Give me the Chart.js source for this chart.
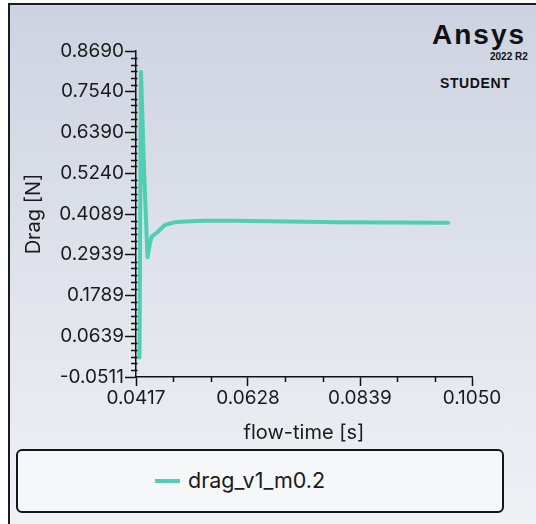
<!DOCTYPE html>
<html>
<head>
<meta charset="utf-8">
<script src="https://cdn.jsdelivr.net/npm/chart.js@4.4.0/dist/chart.umd.min.js"></script>
<style>
  html, body { margin: 0; padding: 0; width: 536px; height: 524px; overflow: hidden; background: #fff; font-family: Inter, "Noto Sans", sans-serif; }
  #frame { position: absolute; left: 8px; top: 3px; width: 600px; height: 600px; border: 2px solid #1c1c1c;
           background: linear-gradient(to bottom, #cdd3e1 0%, #e3e6ed 55%, #f4f5f8 100%); }
  #wrap { position: absolute; left: 0; top: 0; width: 536px; height: 449px; }
  .logo { position: absolute; color: #111; font-family: "Liberation Sans", Arial, sans-serif; font-weight: bold; white-space: nowrap; }
  #legend { position: absolute; left: 16px; top: 449px; width: 484px; height: 60px; border: 2px solid #151515; border-radius: 6px; background: #f6f7f9; }
  #legend .swatch { position: absolute; left: 137px; top: 28px; width: 25px; height: 4px; }
  #legend .text { position: absolute; left: 170px; top: 16px; font-size: 21.5px; color: #1a1a1a; }
</style>
</head>
<body>
<div id="frame"></div>
<div class="logo" style="left:432px; top:19px; font-size:28px; letter-spacing:2px;">Ansys</div>
<div class="logo" style="left:490px; top:51px; font-size:10px;">2022 R2</div>
<div class="logo" style="left:440px; top:75px; font-size:14px; letter-spacing:0.6px;">STUDENT</div>
<div id="wrap"><canvas id="chart"></canvas></div>
<div id="legend"><div class="swatch"></div><div class="text"></div></div>
<script>
const seriesName = "drag_v1_m0.2";
const lineColor = "#4ccfb3";

// flow-time [s]
const flowTime = [0.04236, 0.04264, 0.04320, 0.04387, 0.04430, 0.04466, 0.04560, 0.04716, 0.04905, 0.05093,
                  0.05470, 0.06000, 0.07000, 0.08000, 0.09000, 0.10050];
// Drag [N]
const dragValues = [0.004, 0.810, 0.540, 0.287, 0.325, 0.345, 0.356, 0.378, 0.386, 0.388,
                    0.390, 0.390, 0.388, 0.386, 0.385, 0.384];

const yTicks = [-0.0511, 0.0639, 0.1789, 0.2939, 0.4089, 0.5240, 0.6390, 0.7540, 0.8690];
const yTickLabels = ["-0.0511", "0.0639", "0.1789", "0.2939", "0.4089", "0.5240", "0.6390", "0.7540", "0.8690"];
const xTicks = [0.0417, 0.0628, 0.0839, 0.1050];
const xTickLabels = ["0.0417", "0.0628", "0.0839", "0.1050"];

document.querySelector("#legend .swatch").style.background = lineColor;
document.querySelector("#legend .text").textContent = seriesName;

// small ticks between the labelled ones
const minorTicks = {
  id: "minorTicks",
  afterDraw(chart) {
    const { ctx, scales: { x, y } } = chart;
    ctx.save();
    ctx.strokeStyle = "#111";
    ctx.lineWidth = 1.5;
    ctx.beginPath();
    for (let i = 0; i < yTicks.length - 1; i++) {
      const step = (yTicks[i + 1] - yTicks[i]) / 6;
      for (let k = 1; k < 6; k++) {
        const py = Math.round(y.getPixelForValue(yTicks[i] + k * step)) + 0.5;
        ctx.moveTo(x.left - 5, py);
        ctx.lineTo(x.left + 1.5, py);
      }
    }
    for (let i = 0; i < xTicks.length - 1; i++) {
      const step = (xTicks[i + 1] - xTicks[i]) / 3;
      for (let k = 1; k < 3; k++) {
        const px = Math.round(x.getPixelForValue(xTicks[i] + k * step)) + 0.5;
        ctx.moveTo(px, y.bottom);
        ctx.lineTo(px, y.bottom + 5);
      }
    }
    ctx.stroke();
    ctx.restore();
  }
};

const tickFont = { family: "Inter, 'Noto Sans', sans-serif", size: 19 };
const titleFont = { family: "Inter, 'Noto Sans', sans-serif", size: 20 };

new Chart(document.getElementById("chart"), {
  type: "line",
  data: {
    datasets: [{
      label: seriesName,
      data: flowTime.map((t, i) => ({ x: t, y: dragValues[i] })),
      borderColor: lineColor,
      backgroundColor: lineColor,
      borderWidth: 4,
      pointRadius: 0,
      tension: 0,
      borderJoinStyle: "round",
      borderCapStyle: "round"
    }]
  },
  options: {
    responsive: true,
    maintainAspectRatio: false,
    animation: false,
    layout: { padding: { left: 0, right: 64, top: 51, bottom: 0 } },
    plugins: { legend: { display: false }, tooltip: { enabled: false } },
    scales: {
      x: {
        type: "linear",
        min: 0.0417,
        max: 0.1050,
        afterBuildTicks: s => { s.ticks = xTicks.map(v => ({ value: v })); },
        afterFit: s => { s.height = 72; },
        border: { display: true, color: "#111", width: 1.5 },
        grid: { drawOnChartArea: false, drawTicks: true, tickLength: 9, color: "#111", tickWidth: 1.5 },
        ticks: { color: "#1a1a1a", font: tickFont, padding: 1, maxRotation: 0, callback: (v, i) => xTickLabels[i] },
        title: { display: true, text: "flow-time [s]", color: "#1a1a1a", font: titleFont, padding: { top: 0, bottom: 4 } }
      },
      y: {
        min: -0.0511,
        max: 0.8690,
        afterBuildTicks: s => { s.ticks = yTicks.map(v => ({ value: v })); },
        afterFit: s => { s.width = 136; },
        border: { display: true, color: "#111", width: 1.5 },
        grid: { drawOnChartArea: false, drawTicks: true, tickLength: 11, color: "#111", tickWidth: 1.5 },
        ticks: { color: "#1a1a1a", font: tickFont, padding: 1, callback: (v, i) => yTickLabels[i] },
        title: { display: true, text: "Drag [N]", color: "#1a1a1a", font: titleFont, padding: { top: 22, bottom: 0 } }
      }
    }
  },
  plugins: [minorTicks]
});
</script>
</body>
</html>
